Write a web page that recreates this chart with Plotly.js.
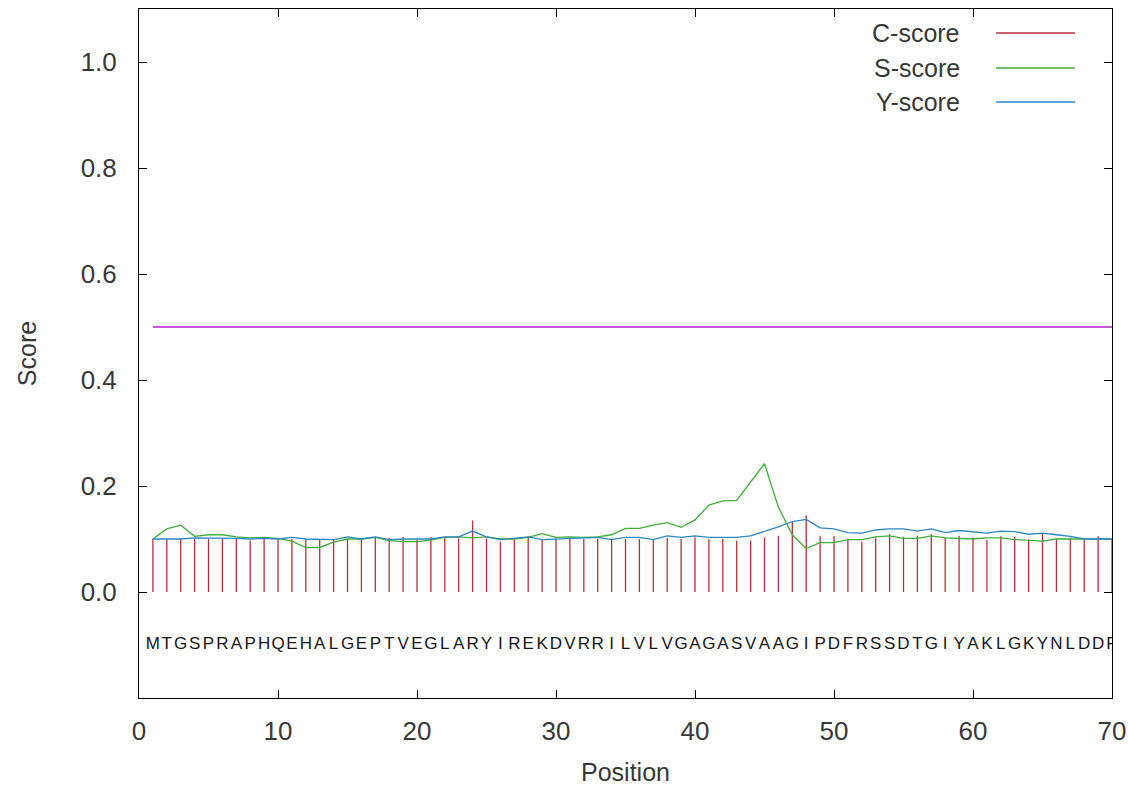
<!DOCTYPE html>
<html>
<head>
<meta charset="utf-8">
<script src="https://cdn.plot.ly/plotly-3.0.1.min.js"></script>
<style>html,body{margin:0;padding:0;background:#fff;}#chart{width:1128px;height:799px;}</style>
</head>
<body>
<div id="chart"></div>
<script>
// ---- data ----
const sequence = "MTGSPRAPHQEHALGEPTVEGLARYIREKDVRRILVLVGAGASVAAGIPDFRSSDTGIYAKLGKYNLDDP".split("");
const positions = sequence.map((_, i) => i + 1);

const cScore = [0.100,0.100,0.100,0.100,0.100,0.100,0.100,0.097,0.100,0.100,
                0.100,0.100,0.100,0.100,0.100,0.100,0.104,0.102,0.104,0.099,
                0.104,0.103,0.101,0.135,0.101,0.095,0.099,0.105,0.098,0.101,
                0.102,0.100,0.100,0.100,0.100,0.100,0.098,0.102,0.100,0.103,
                0.100,0.100,0.097,0.097,0.103,0.106,0.132,0.145,0.106,0.106,
                0.098,0.095,0.103,0.109,0.104,0.106,0.109,0.103,0.106,0.103,
                0.098,0.105,0.104,0.099,0.111,0.099,0.103,0.099,0.105,0.100];

const sScore = [0.100,0.119,0.126,0.105,0.108,0.108,0.104,0.102,0.103,0.101,
                0.096,0.084,0.084,0.094,0.100,0.100,0.103,0.097,0.095,0.095,
                0.098,0.103,0.104,0.102,0.104,0.100,0.100,0.103,0.110,0.103,
                0.104,0.103,0.104,0.108,0.120,0.120,0.126,0.131,0.122,0.136,
                0.164,0.172,0.173,0.208,0.242,0.160,0.108,0.082,0.093,0.093,
                0.099,0.099,0.104,0.106,0.101,0.101,0.106,0.102,0.101,0.100,
                0.102,0.102,0.099,0.097,0.096,0.100,0.100,0.100,0.100,0.100];

const yScore = [0.100,0.100,0.100,0.102,0.102,0.101,0.101,0.100,0.101,0.100,
                0.103,0.100,0.100,0.099,0.104,0.100,0.104,0.099,0.100,0.100,
                0.100,0.104,0.104,0.115,0.104,0.099,0.101,0.104,0.099,0.100,
                0.101,0.103,0.103,0.099,0.103,0.103,0.099,0.106,0.103,0.106,
                0.103,0.103,0.103,0.106,0.114,0.123,0.133,0.137,0.121,0.119,
                0.112,0.111,0.117,0.119,0.119,0.115,0.119,0.112,0.116,0.114,
                0.111,0.115,0.114,0.109,0.111,0.108,0.105,0.100,0.100,0.100];

const threshold = 0.5;
const seqLabelLevel = -0.1;
const seriesNames = ["C-score", "S-score", "Y-score"];
const xTicks = [0, 10, 20, 30, 40, 50, 60, 70];
const yTicks = [0.0, 0.2, 0.4, 0.6, 0.8, 1.0];

// ---- styles ----
const colors = ["#b8303a", "#3fae38", "#2c86c4"];
const threshColor = "#b424c8";
const font = "Liberation Sans, Arial, sans-serif";
const seqFont = "Liberation Sans Narrow, Liberation Sans, Arial, sans-serif";
const textColor = "#383838";

// impulses for C-score built from the data
const cx = [], cy = [];
positions.forEach((p, i) => { cx.push(p, p, null); cy.push(0, cScore[i], null); });

const traces = [
  {x: cx, y: cy, mode: "lines", line: {color: colors[0], width: 1.3}, name: seriesNames[0], hoverinfo: "skip"},
  {x: positions, y: sScore, mode: "lines", line: {color: colors[1], width: 1.3}, name: seriesNames[1]},
  {x: positions, y: yScore, mode: "lines", line: {color: colors[2], width: 1.3}, name: seriesNames[2]},
  {x: [positions[0], positions[positions.length - 1]], y: [threshold, threshold], mode: "lines",
   line: {color: threshColor, width: 1.3}, name: "threshold"},
  {x: positions, y: positions.map(() => seqLabelLevel), mode: "text", text: sequence,
   textfont: {family: seqFont, size: 17, color: "#151515"}, textposition: "middle center", name: "sequence"}
];

// custom legend (text left of the sample line, as in gnuplot)
const legendY = [0.9652, 0.9144, 0.865];
const annotations = seriesNames.map((n, i) => ({
  xref: "paper", yref: "paper", x: 0.8458, y: legendY[i], xanchor: "right", yanchor: "middle",
  text: n, showarrow: false, font: {family: font, size: 25, color: textColor}
}));
const shapes = seriesNames.map((n, i) => ({
  type: "line", xref: "paper", yref: "paper", x0: 0.8808, x1: 0.962, y0: legendY[i], y1: legendY[i],
  line: {color: colors[i], width: 1.3}
}));

const axisCommon = {
  showline: true, linecolor: "#000", linewidth: 1, mirror: "allticks",
  ticks: "inside", ticklen: 8, tickcolor: "#000", tickwidth: 1,
  showgrid: false, zeroline: false,
  tickfont: {family: font, size: 26, color: textColor}
};

const layout = {
  width: 1128, height: 799,
  margin: {l: 139, r: 16, t: 9, b: 101},
  paper_bgcolor: "#fff", plot_bgcolor: "#fff",
  showlegend: false,
  xaxis: Object.assign({}, axisCommon, {
    range: [0, 70], tickvals: xTicks, ticktext: xTicks.map(String), ticklabelstandoff: 10,
    title: {text: "Position", font: {family: font, size: 25, color: textColor}, standoff: 18}
  }),
  yaxis: Object.assign({}, axisCommon, {
    range: [-0.2, 1.1], tickvals: yTicks, ticktext: yTicks.map(v => v.toFixed(1)), ticklabelstandoff: 16,
    title: {text: "Score", font: {family: font, size: 25, color: textColor}, standoff: 36}
  }),
  annotations: annotations,
  shapes: shapes
};

Plotly.newPlot("chart", traces, layout, {staticPlot: true, displayModeBar: false});
</script>
</body>
</html>
